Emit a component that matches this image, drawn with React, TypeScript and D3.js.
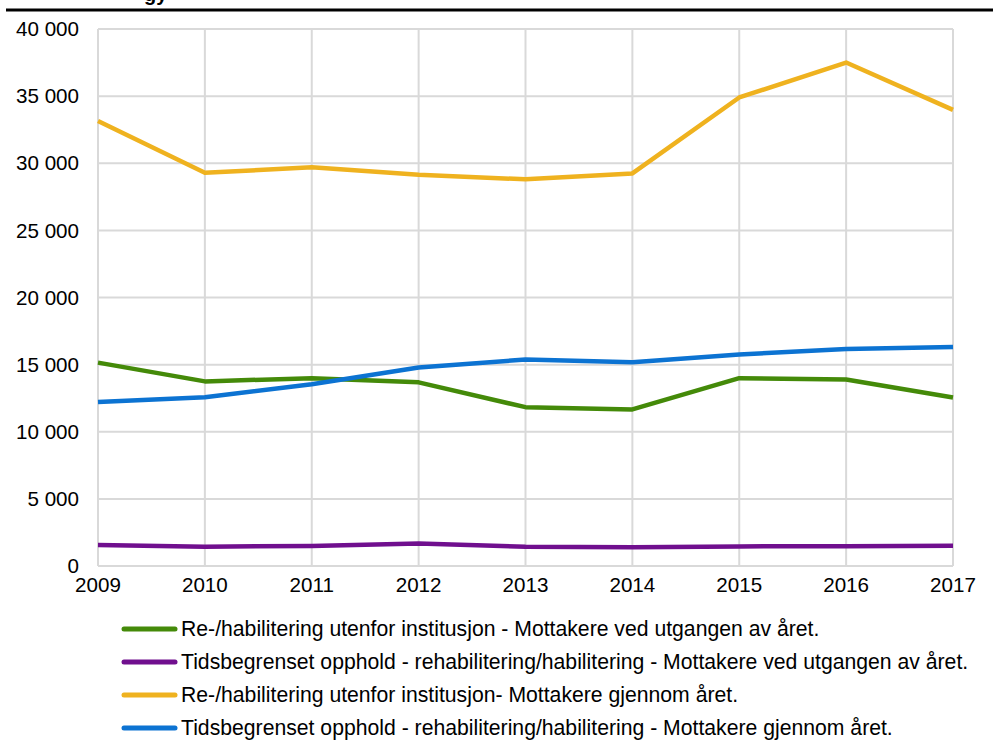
import React, { useEffect, useRef } from "react";
import * as d3 from "d3";

const years = [2009, 2010, 2011, 2012, 2013, 2014, 2015, 2016, 2017];

const utenforVedUtgangen = [15150, 13750, 13990, 13680, 11830, 11660, 13990, 13890, 12550];
const tidsbegrensetVedUtgangen = [1560, 1440, 1490, 1680, 1440, 1390, 1460, 1480, 1500];
const utenforGjennomAret = [33150, 29290, 29700, 29150, 28800, 29240, 34900, 37500, 33980];
const tidsbegrensetGjennomAret = [12220, 12570, 13540, 14780, 15380, 15180, 15750, 16170, 16320];

const yTicks = [0, 5000, 10000, 15000, 20000, 25000, 30000, 35000, 40000];

const seriesNames = [
  "Re-/habilitering utenfor institusjon - Mottakere ved utgangen av året.",
  "Tidsbegrenset opphold - rehabilitering/habilitering - Mottakere ved utgangen av året.",
  "Re-/habilitering utenfor institusjon- Mottakere gjennom året.",
  "Tidsbegrenset opphold - rehabilitering/habilitering - Mottakere gjennom året.",
];
const seriesColors = ["#448a09", "#700f8e", "#efb21f", "#0c73d2"];

const App = () => {
  const svgRef = useRef<SVGSVGElement>(null);

  useEffect(() => {
    const width = 993;
    const height = 740;
    const margin = { top: 29, right: 40, bottom: 174, left: 98 };

    const svg = d3.select(svgRef.current);
    svg.selectAll("*").remove();
    svg
      .attr("viewBox", `0 0 ${width} ${height}`)
      .style("font-family", "'Liberation Sans', Arial, sans-serif");

    const x = d3
      .scaleLinear()
      .domain([years[0], years[years.length - 1]])
      .range([margin.left, width - margin.right]);

    const y = d3
      .scaleLinear()
      .domain([0, 40000])
      .range([height - margin.bottom, margin.top]);

    const fmt = d3
      .formatLocale({ decimal: ",", thousands: "\u00a0", grouping: [3], currency: ["", " kr"] })
      .format(",d");

    // title (cut off at top of the picture) + rule
    svg
      .append("text")
      .attr("x", 144)
      .attr("y", 1)
      .attr("font-size", 20)
      .attr("font-weight", "bold")
      .attr("fill", "#000")
      .text("gy");
    svg
      .append("line")
      .attr("x1", 6)
      .attr("x2", width)
      .attr("y1", 10)
      .attr("y2", 10)
      .attr("stroke", "#000")
      .attr("stroke-width", 3);

    // grid
    svg
      .append("g")
      .selectAll("line")
      .data(yTicks)
      .join("line")
      .attr("x1", margin.left)
      .attr("x2", width - margin.right)
      .attr("y1", (d) => y(d))
      .attr("y2", (d) => y(d))
      .attr("stroke", "#d9d9d9")
      .attr("stroke-width", 2);

    svg
      .append("g")
      .selectAll("line")
      .data(years)
      .join("line")
      .attr("x1", (d) => x(d))
      .attr("x2", (d) => x(d))
      .attr("y1", y(0))
      .attr("y2", y(40000))
      .attr("stroke", "#d9d9d9")
      .attr("stroke-width", 2);

    // y labels
    svg
      .append("g")
      .selectAll("text")
      .data(yTicks)
      .join("text")
      .attr("x", 79)
      .attr("y", (d) => y(d))
      .attr("dy", "0.35em")
      .attr("text-anchor", "end")
      .attr("font-size", 20.6)
      .attr("fill", "#000")
      .text((d) => fmt(d));

    // x labels
    svg
      .append("g")
      .selectAll("text")
      .data(years)
      .join("text")
      .attr("x", (d) => x(d))
      .attr("y", 592)
      .attr("text-anchor", "middle")
      .attr("font-size", 20.6)
      .attr("fill", "#000")
      .text((d) => d);

    const allSeries = [
      utenforVedUtgangen,
      tidsbegrensetVedUtgangen,
      utenforGjennomAret,
      tidsbegrensetGjennomAret,
    ];

    const line = d3
      .line<number>()
      .x((_, i) => x(years[i]))
      .y((d) => y(d));

    allSeries.forEach((values, i) => {
      svg
        .append("path")
        .datum(values)
        .attr("d", line)
        .attr("fill", "none")
        .attr("stroke", seriesColors[i])
        .attr("stroke-width", 4.5)
        .attr("stroke-linejoin", "round");
    });

    // legend
    const legend = svg.append("g");
    seriesNames.forEach((name, i) => {
      const ly = 629 + i * 33;
      legend
        .append("line")
        .attr("x1", 124)
        .attr("x2", 175)
        .attr("y1", ly)
        .attr("y2", ly)
        .attr("stroke", seriesColors[i])
        .attr("stroke-width", 5)
        .attr("stroke-linecap", "round");
      legend
        .append("text")
        .attr("x", 181)
        .attr("y", ly)
        .attr("dy", "0.35em")
        .attr("font-size", 21.2)
        .attr("fill", "#000")
        .text(name);
    });
  }, []);

  return (
    <div style={{ position: "absolute", left: 0, top: 0, width: 993, height: 740, background: "#fff" }}>
      <svg ref={svgRef} width={993} height={740} />
    </div>
  );
};

export default App;
